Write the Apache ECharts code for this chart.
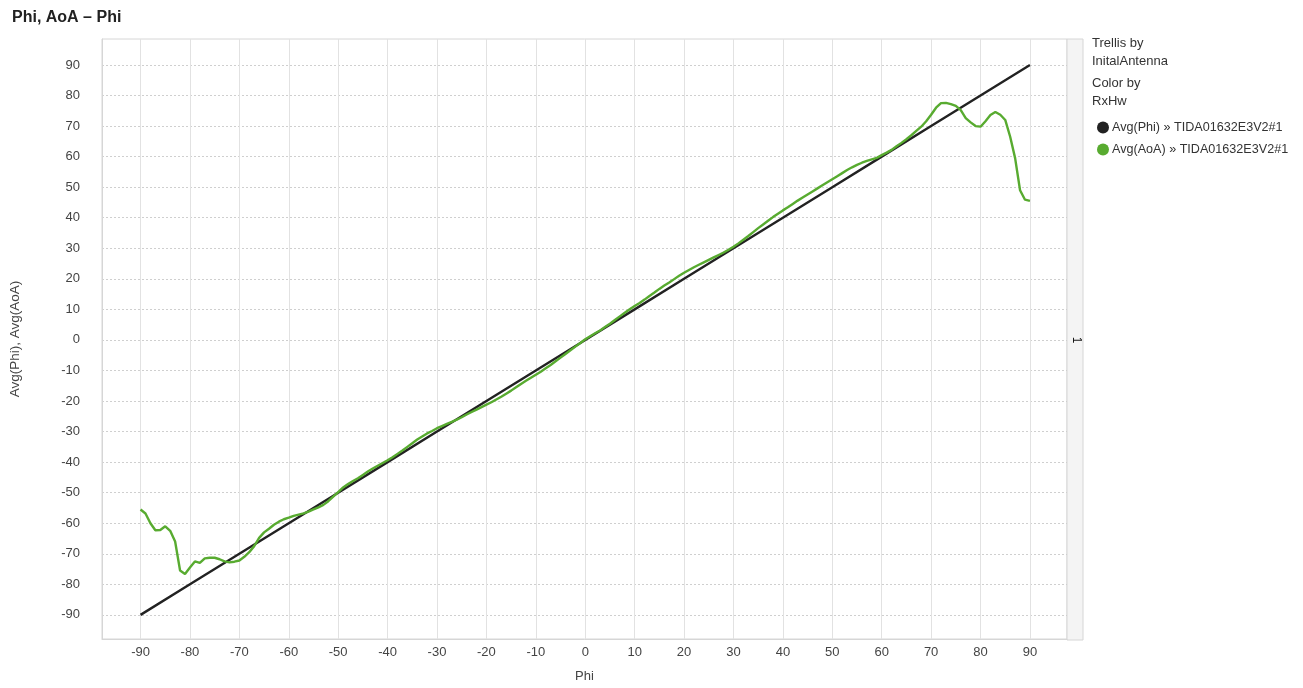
<!DOCTYPE html>
<html>
<head>
<meta charset="utf-8">
<script src="https://cdn.jsdelivr.net/npm/echarts@6/dist/echarts.min.js"></script>
<style>
html,body{margin:0;padding:0;background:#fff;}
#chart{width:1303px;height:688px;}
</style>
</head>
<body>
<div id="chart"></div>
<script>
// ---- data ----
const xTickLabels = [-90,-80,-70,-60,-50,-40,-30,-20,-10,0,10,20,30,40,50,60,70,80,90];
const yTickLabels = [-90,-80,-70,-60,-50,-40,-30,-20,-10,0,10,20,30,40,50,60,70,80,90];

const phiBlack = [-90,-80,-70,-60,-50,-40,-30,-20,-10,0,10,20,30,40,50,60,70,80,90];
const avgPhi   = [-90,-80,-70,-60,-50,-40,-30,-20,-10,0,10,20,30,40,50,60,70,80,90];

const phiGreen = [
 -90,-89,-88,-87,-86,-85,-84,-83,-82,-81,
 -80,-79,-78,-77,-76,-75,-74,-73,-72,-71,
 -70,-69,-68,-67,-66,-65,-64,-63,-62,-61,
 -60,-59,-58,-57,-56,-55,-54,-53,-52,-51,
 -50,-49,-48,-47,-46,-45,-44,-43,-42,-41,
 -40,-39,-38,-37,-36,-35,-34,-33,-32,-31,
 -30,-29,-28,-27,-26,-25,-24,-23,-22,-21,
 -20,-19,-18,-17,-16,-15,-14,-13,-12,-11,
 -10,-9,-8,-7,-6,-5,-4,-3,-2,-1,
 0,
 1,2,3,4,5,6,7,8,9,10,
 11,12,13,14,15,16,17,18,19,20,
 21,22,23,24,25,26,27,28,29,30,
 31,32,33,34,35,36,37,38,39,40,
 41,42,43,44,45,46,47,48,49,50,
 51,52,53,54,55,56,57,58,59,60,
 61,62,63,64,65,66,67,68,69,70,
 71,72,73,74,75,76,77,78,79,80,
 81,82,83,84,85,86,87,88,89,90
];
const avgAoA = [
 -55.5,-56.8,-60,-62.3,-62.2,-61,-62.5,-66,-75.5,-76.6,
 -74.5,-72.5,-73,-71.5,-71.3,-71.3,-71.8,-72.5,-72.8,-72.6,
 -72.2,-71,-69.5,-67.5,-64.8,-63,-61.8,-60.5,-59.5,-58.7,
 -58.2,-57.6,-57.2,-56.8,-56.2,-55.5,-54.8,-54,-52.8,-51.3,
 -49.8,-48.3,-47.2,-46.2,-45.3,-44.2,-43.1,-42.1,-41.2,-40.3,
 -39.4,-38.4,-37.3,-36.2,-35,-33.8,-32.6,-31.6,-30.6,-29.8,
 -28.9,-28.2,-27.5,-26.8,-26.1,-25.3,-24.4,-23.6,-22.8,-22,
 -21.2,-20.4,-19.5,-18.6,-17.6,-16.6,-15.5,-14.4,-13.4,-12.4,
 -11.4,-10.4,-9.3,-8.2,-7,-5.8,-4.6,-3.4,-2.2,-1,
 0.2,
 1.2,2.2,3.1,4.2,5.3,6.5,7.7,8.9,10,11.1,
 12.1,13.2,14.4,15.5,16.7,17.8,18.8,19.9,21,22,
 22.9,23.8,24.6,25.4,26.2,27,27.8,28.6,29.5,30.5,
 31.6,32.8,34,35.3,36.6,37.8,39,40.2,41.3,42.4,
 43.4,44.5,45.6,46.6,47.6,48.6,49.6,50.6,51.6,52.6,
 53.6,54.6,55.6,56.5,57.3,58,58.6,59.1,59.6,60.5,
 61.3,62.2,63.4,64.5,65.7,67,68.4,69.8,71.6,73.7,
 76,77.5,77.6,77.2,76.6,75.2,72.6,71.2,70,69.8,
 71.6,73.6,74.6,73.7,72,66.5,59.5,49,45.9,45.5
];

const seriesNames = ['Avg(Phi) » TIDA01632E3V2#1', 'Avg(AoA) » TIDA01632E3V2#1'];
const seriesColors = ['#222222', '#58ab30'];

// ---- chart ----
const FONT = '"Liberation Sans", Arial, sans-serif';
const chart = echarts.init(document.getElementById('chart'), null, {renderer: 'canvas'});

const pair = (xs, ys) => xs.map((x, i) => [x, ys[i]]);

chart.setOption({
  animation: false,
  backgroundColor: '#ffffff',
  textStyle: {fontFamily: FONT},
  title: {
    text: 'Phi, AoA – Phi',
    left: 7, top: 5,
    textStyle: {fontFamily: FONT, fontSize: 16, fontWeight: 'bold', color: '#222'}
  },
  grid: {
    left: 102, right: 236, top: 39, bottom: 48,
    show: true, borderColor: '#d6d6d6', borderWidth: 1, backgroundColor: '#fff'
  },
  legend: {
    orient: 'vertical',
    left: 1092, top: 116,
    icon: 'circle',
    itemWidth: 12, itemHeight: 12,
    itemGap: 9,
    textStyle: {fontFamily: FONT, fontSize: 12.6, color: '#333', padding: [0,0,0,-2]},
    data: seriesNames
  },
  xAxis: {
    type: 'value',
    min: -97.8, max: 97.5,
    name: 'Phi',
    nameLocation: 'middle',
    nameGap: 31,
    nameTextStyle: {fontFamily: FONT, fontSize: 13, color: '#444'},
    axisLine: {show: true, onZero: false, lineStyle: {color: '#d6d6d6'}},
    axisTick: {show: false, customValues: xTickLabels},
    axisLabel: {customValues: xTickLabels, fontFamily: FONT, fontSize: 13, color: '#444', margin: 7},
    splitLine: {show: true, lineStyle: {color: '#e2e2e2', type: 'solid', width: 1}}
  },
  yAxis: {
    type: 'value',
    min: -97.9, max: 98.5,
    name: 'Avg(Phi), Avg(AoA)',
    nameLocation: 'middle',
    nameGap: 80,
    nameRotate: 90,
    nameTextStyle: {fontFamily: FONT, fontSize: 13.5, color: '#444'},
    axisLine: {show: true, onZero: false, lineStyle: {color: '#d6d6d6'}},
    axisTick: {show: false, customValues: yTickLabels},
    axisLabel: {customValues: yTickLabels, fontFamily: FONT, fontSize: 13, color: '#444', margin: 22},
    splitLine: {show: true, lineStyle: {color: '#cfcfcf', type: [2, 2], width: 1}}
  },
  series: [
    {
      name: seriesNames[0], type: 'line', data: pair(phiBlack, avgPhi),
      showSymbol: false, symbol: 'circle', color: seriesColors[0],
      lineStyle: {width: 2.4, color: seriesColors[0]}, z: 3
    },
    {
      name: seriesNames[1], type: 'line', data: pair(phiGreen, avgAoA),
      showSymbol: false, symbol: 'circle', color: seriesColors[1],
      lineStyle: {width: 2.4, color: seriesColors[1]}, z: 4
    }
  ],
  graphic: [
    {type: 'rect', shape: {x: 1067, y: 39, width: 16, height: 601},
     style: {fill: '#f4f4f4', stroke: '#d6d6d6', lineWidth: 1}, silent: true},
    {type: 'text', x: 1076, y: 340, rotation: -Math.PI / 2,
     style: {text: '1', fontFamily: FONT, fontSize: 12, fill: '#111', align: 'center', verticalAlign: 'middle'}},
    {type: 'text', left: 1092, top: 34,
     style: {text: 'Trellis by\nInitalAntenna', fontFamily: FONT, fontSize: 13, lineHeight: 18, fill: '#333'}},
    {type: 'text', left: 1092, top: 74,
     style: {text: 'Color by\nRxHw', fontFamily: FONT, fontSize: 13, lineHeight: 18, fill: '#333'}}
  ]
});
</script>
</body>
</html>
